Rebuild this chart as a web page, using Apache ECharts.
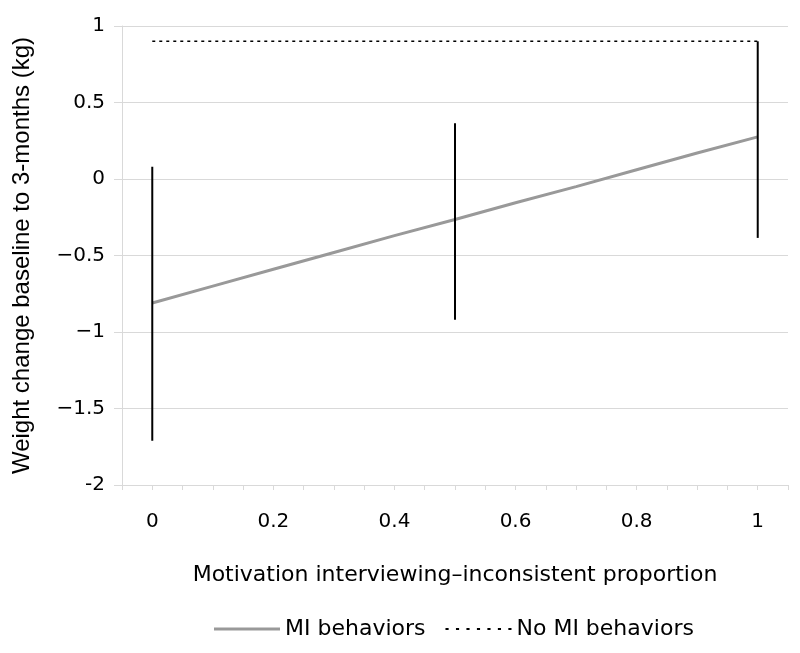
<!DOCTYPE html>
<html>
<head>
<meta charset="utf-8">
<script src="https://cdn.jsdelivr.net/npm/echarts@6/dist/echarts.min.js"></script>
<style>html,body{margin:0;padding:0;background:#fff}#c{width:800px;height:653px}</style>
</head>
<body>
<div id="c"></div>
<script>
// Data
const miX = [0, 0.1, 0.2, 0.3, 0.4, 0.5, 0.6, 0.7, 0.8, 0.9, 1];
const miY = [-0.81, -0.70, -0.59, -0.48, -0.37, -0.265, -0.155, -0.05, 0.06, 0.17, 0.275];
const noMiX = [0, 1];
const noMiY = [0.9, 0.9];
const errX = [0, 0.5, 1];
const errHigh = [0.08, 0.365, 0.9];
const errLow = [-1.71, -0.92, -0.385];

const FONT = 'DejaVu Sans, sans-serif';
const VFONT = 'Liberation Sans, Arial, sans-serif';
const chart = echarts.init(document.getElementById('c'));
const gridColor = '#d9d9d9';
// dotted legend icon: a row of small squares
let dots = '';
for (let i = 0; i < 7; i++) { const x = i * 10; dots += 'M' + x + ',0 L' + (x + 3) + ',0 L' + (x + 3) + ',2 L' + x + ',2 Z '; }
chart.setOption({
  animation: false,
  grid: { left: 122, right: 12, top: 26, bottom: 168 },
  xAxis: {
    type: 'value', min: -0.05, max: 1.05, interval: 0.05,
    name: 'Motivation interviewing–inconsistent proportion',
    nameLocation: 'middle', nameGap: 79,
    nameTextStyle: { fontFamily: FONT, fontSize: 22, color: '#000' },
    axisLine: { show: true, onZero: false, lineStyle: { color: gridColor, width: 1 } },
    axisTick: { show: true, length: 5, lineStyle: { color: gridColor } },
    splitLine: { show: false },
    axisLabel: {
      margin: 27, fontSize: 20, color: '#000', fontFamily: FONT,
      formatter: v => {
        const r = Math.round(v * 100);
        if (r < 0 || r > 100 || r % 20 !== 0) return '';
        return String(r / 100);
      }
    }
  },
  yAxis: {
    type: 'value', min: -2, max: 1, interval: 0.5,
    name: 'Weight change baseline to 3-months (kg)',
    nameLocation: 'middle', nameGap: 88, nameRotate: 90,
    nameTextStyle: { fontFamily: VFONT, fontSize: 24, color: '#000' },
    axisLine: { show: true, onZero: false, lineStyle: { color: gridColor, width: 1 } },
    axisTick: { show: true, length: 8, lineStyle: { color: gridColor } },
    splitLine: { show: true, lineStyle: { color: gridColor, width: 1 } },
    axisLabel: {
      margin: 17, fontSize: 20, color: '#000', fontFamily: FONT,
      formatter: v => (v === -2 ? '-2' : String(v).replace('-', '−'))
    }
  },
  legend: {
    bottom: 8, left: 209, itemWidth: 66, itemHeight: 14, itemGap: 20,
    textStyle: { fontFamily: FONT, fontSize: 22, color: '#000' },
    data: [
      { name: 'MI behaviors', icon: 'path://M0,0 L66,0 L66,3 L0,3 Z' },
      { name: 'No MI behaviors', icon: 'path://' + dots, itemStyle: { color: '#000' } }
    ]
  },
  series: [
    {
      name: 'MI behaviors', type: 'line', symbol: 'none', z: 3,
      lineStyle: { color: '#999999', width: 3 },
      itemStyle: { color: '#999999' },
      data: miX.map((x, i) => [x, miY[i]])
    },
    {
      name: 'No MI behaviors', type: 'line', symbol: 'none', z: 3,
      lineStyle: { color: '#000', width: 1.5, type: [3, 4] },
      itemStyle: { color: '#000' },
      data: noMiX.map((x, i) => [x, noMiY[i]])
    },
    {
      name: 'err', type: 'custom', z: 4,
      renderItem: (params, api) => {
        const p1 = api.coord([api.value(0), api.value(1)]);
        const p2 = api.coord([api.value(0), api.value(2)]);
        return { type: 'line', shape: { x1: p1[0], y1: p1[1], x2: p2[0], y2: p2[1] },
                 style: { stroke: '#000', lineWidth: 2 } };
      },
      encode: { x: 0, y: [1, 2] },
      data: errX.map((x, i) => [x, errHigh[i], errLow[i]])
    }
  ]
});
</script>
</body>
</html>
